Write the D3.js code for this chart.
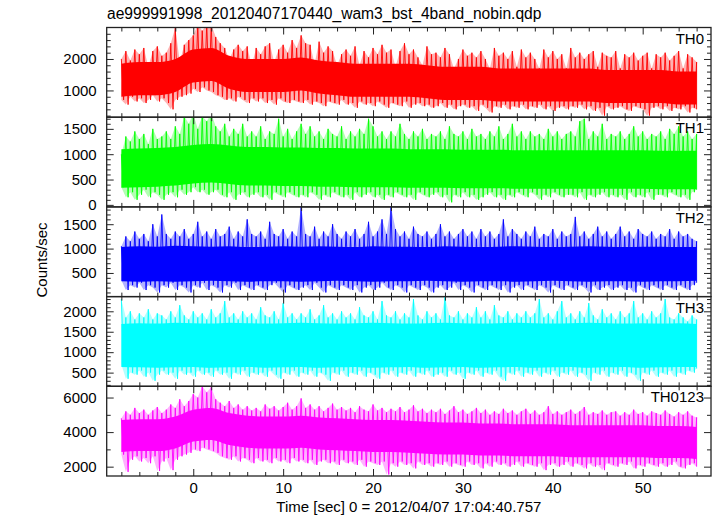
<!DOCTYPE html>
<html><head><meta charset="utf-8">
<script src="https://cdn.jsdelivr.net/npm/d3@7"></script>
<style>
body{margin:0;background:#fff}
text{font-family:"Liberation Sans",Arial,Helvetica,sans-serif}
</style>
</head><body>
<svg id="chart" width="717" height="516"></svg>
<script>
const title = "ae999991998_20120407170440_wam3_bst_4band_nobin.qdp";
const xLabel = "Time [sec] 0 = 2012/04/07 17:04:40.757";
const yLabel = "Counts/sec";
const xTickValues = [0, 10, 20, 30, 40, 50];
const panelNames = ["TH0", "TH1", "TH2", "TH3", "TH0123"];
const panelColors = ["#ff0000", "#00ff00", "#0000ff", "#00ffff", "#ff00ff"];
const yDomains = [[150, 3000], [-40, 1730], [15, 1855], [165, 2360], [1460, 6650]];
const yTickValues = [[1000, 2000], [0, 500, 1000, 1500], [500, 1000, 1500], [500, 1000, 1500, 2000], [2000, 4000, 6000]];
const yMinorStep = [200, 100, 100, 100, 1000];

// time grid of the envelope samples (0.5 s) and of the core band (2 s)
const spikeTimes = d3.range(129).map(i => -8 + 0.5 * i);
const coreTimes = d3.range(33).map(i => -8 + 2 * i);

// ---- TH0 ----
const th0Hi = [2000,2250,1950,2300,2150,2350,1750,2250,2400,2100,
2200,2500,3000,1900,2450,2600,2750,3100,2900,3100,
3100,2700,2500,2350,2000,2300,2450,2250,2400,1800,
2350,2150,2400,2500,1900,2300,2450,2200,2600,2350,
2750,2500,2450,1850,2550,2200,2400,2250,1800,2150,
2300,2100,2400,1800,2250,2050,2350,2150,2450,2200,
2300,1750,2250,2500,2150,2300,2050,1800,2400,2150,
2200,2050,2350,2150,1700,2000,2300,2100,2200,2050,
2250,2000,1700,2350,2100,2200,2000,2250,1750,2300,
2050,2200,2000,1700,2300,2050,2250,2000,2150,1700,
2350,2050,2200,2000,2150,2250,1750,2200,2100,2050,
2250,1700,2150,2050,2200,1950,2100,2200,1700,2150,
2050,2200,1950,2100,2250,1700,2150,2050,1900];
const th0Lo = [700,550,800,650,750,600,700,850,650,750,
600,400,700,800,850,900,1050,950,1100,1000,
950,850,800,700,750,650,800,700,600,750,
650,750,600,700,550,750,650,600,700,650,
600,700,550,650,600,500,650,600,550,700,
550,600,450,650,550,600,500,650,550,450,
600,550,500,650,450,550,600,500,550,450,
500,600,450,550,400,500,550,450,500,350,
550,450,300,500,450,550,400,500,450,550,
400,500,450,550,400,500,350,450,500,400,
500,450,550,400,500,350,450,200,500,400,
450,500,400,350,500,450,400,200,450,500,
400,500,350,450,400,500,300,450,400];
const th0CoreHi = [1850,1900,1900,2000,2300,2350,2100,2000,2000,2000,2050,1950,1900,1850,1850,1850,1850,1800,1750,1750,1750,1700,1700,1700,1700,1700,1700,1650,1650,1650,1650,1600,1600];
const th0CoreLo = [800,850,850,950,1250,1300,1050,950,950,950,1000,900,850,800,800,800,800,750,700,700,700,650,650,650,650,650,650,600,600,600,600,550,550];

// ---- TH1 ----
const th1Hi = [1000,1350,1250,1450,1300,1400,1200,1500,1300,1350,
1450,1300,1550,1400,1750,1600,1800,1500,1750,1650,
1800,1550,1450,1600,1350,1500,1400,1600,1350,1450,
1350,1550,1300,1450,1400,1700,1350,1500,1300,1450,
1600,1400,1550,1350,1450,1300,1500,1400,1350,1550,
1300,1450,1350,1500,1400,1700,1550,1350,1450,1300,
1450,1350,1600,1400,1300,1450,1350,1500,1300,1400,
1350,1450,1300,1550,1400,1350,1450,1300,1500,1350,
1400,1300,1450,1350,1550,1300,1400,1600,1350,1450,
1300,1450,1350,1400,1300,1500,1350,1450,1300,1400,
1450,1350,1650,1700,1300,1450,1350,1600,1300,1400,
1350,1450,1300,1400,1550,1350,1450,1300,1400,1350,
1450,1300,1500,1400,1550,1350,1450,1300,1400];
const th1Lo = [350,150,250,100,200,300,150,250,200,100,
200,250,150,300,200,250,350,250,300,200,
250,300,200,150,250,100,200,250,150,200,
250,150,200,100,250,200,150,250,200,150,
200,150,250,200,100,200,150,250,200,150,
200,100,250,150,200,250,150,200,100,200,
150,250,200,150,200,100,250,200,150,200,
250,150,200,50,200,150,250,150,200,100,
150,200,250,150,200,100,200,150,250,200,
150,250,200,100,200,150,250,200,150,200,
200,150,250,100,200,150,200,250,150,200,
150,200,100,250,150,200,150,250,100,200,
200,150,250,200,150,200,100,250,300];
const th1CoreHi = [1100,1110,1120,1140,1180,1200,1170,1140,1140,1130,1130,1120,1120,1110,1110,1110,1100,1100,1100,1090,1090,1090,1080,1080,1080,1080,1080,1080,1080,1080,1070,1070,1070];
const th1CoreLo = [340,350,360,380,420,440,410,380,380,370,370,360,360,350,350,350,340,340,340,330,330,330,320,320,320,320,320,320,320,320,310,310,310];

// ---- TH2 ----
const th2Hi = [1050,1250,1150,1350,1200,1300,1150,1500,1250,1700,
1300,1200,1350,1250,1400,1200,1300,1550,1250,1350,
1200,1400,1250,1300,1450,1200,1350,1250,1600,1300,
1250,1350,1200,1550,1300,1250,1400,1200,1350,1250,
1850,1300,1250,1450,1200,1350,1250,1500,1300,1200,
1350,1250,1400,1200,1300,1550,1250,1350,1600,1300,
1850,1400,1250,1350,1200,1450,1300,1250,1350,1200,
1300,1500,1250,1350,1200,1300,1400,1250,1350,1200,
1400,1250,1350,1200,1300,1600,1250,1400,1300,1200,
1350,1250,1450,1200,1300,1250,1400,1200,1350,1250,
1300,1650,1250,1350,1200,1300,1450,1250,1350,1200,
1300,1450,1250,1350,1200,1400,1300,1250,1350,1200,
1300,1250,1400,1200,1350,1250,1300,1200,1150];
const th2Lo = [350,150,250,200,300,150,250,200,100,250,
200,300,150,250,200,100,250,200,300,150,
250,200,100,250,200,300,150,250,200,150,
250,200,150,250,300,200,100,250,200,150,
200,250,150,300,200,100,250,200,150,250,
200,150,250,100,200,250,150,200,300,200,
150,250,200,100,250,200,150,250,200,100,
200,250,150,200,300,150,250,200,100,250,
200,150,250,200,150,250,100,200,250,150,
250,200,150,250,200,100,250,200,150,250,
200,150,250,200,100,250,150,200,250,150,
200,250,150,200,100,250,200,150,250,200,
150,250,200,150,250,200,150,250,300];
const th2CoreHi = [1030,1050,1040,1060,1050,1040,1050,1030,1040,1050,1040,1050,1040,1030,1050,1040,1040,1030,1050,1040,1030,1040,1050,1040,1030,1040,1050,1040,1030,1040,1040,1030,1030];
const th2CoreLo = [330,320,330,320,330,340,330,320,330,330,320,330,340,330,320,330,330,340,330,320,330,330,320,330,340,330,320,330,330,320,330,330,340];

// ---- TH3 ----
const th3Hi = [2300,1850,2000,1800,1950,1850,2050,1800,1950,1900,
1800,2000,1850,2150,1900,1800,2000,1850,1950,1800,
2050,1850,1950,2250,1850,1950,1800,2000,1850,1950,
1800,2100,1900,1850,2000,1800,2200,1850,1950,1800,
1950,1850,2050,1800,1900,2150,1850,1950,1800,2000,
1850,1950,1800,2100,1900,1850,2000,1800,2250,1900,
1850,2000,1800,1950,1850,2300,1900,1800,2000,1850,
1950,1800,2350,1900,1850,2000,1800,1950,1850,2100,
1850,2000,1800,2150,1900,1850,2000,1800,1950,1850,
2000,1850,1950,2300,1850,1950,1800,2000,2250,1850,
1950,1800,2000,1850,2200,1900,1800,2050,1850,1950,
1800,2000,1850,1950,2250,1850,1950,1800,2000,1850,
1950,2300,1850,1800,1950,1850,1750,1900,1800];
const th3Lo = [700,350,500,450,550,400,500,300,450,550,
450,500,350,550,450,500,400,550,450,500,
400,550,450,500,350,500,450,550,400,500,
450,500,400,550,450,350,500,450,550,400,
500,450,550,400,500,450,300,500,450,550,
400,500,450,550,400,500,450,350,500,450,
550,400,500,450,550,400,500,450,550,400,
450,500,400,550,450,500,350,500,450,550,
400,500,450,550,400,300,500,450,550,400,
500,450,550,400,500,450,550,400,500,450,
550,400,500,450,300,500,450,550,400,500,
450,550,400,500,450,300,500,450,550,400,
500,450,550,400,500,450,550,500,600];
const th3CoreHi = [1690,1710,1700,1720,1710,1700,1720,1710,1700,1710,1720,1710,1700,1710,1720,1710,1700,1710,1720,1710,1700,1710,1720,1710,1700,1710,1720,1710,1700,1710,1700,1710,1690];
const th3CoreLo = [640,630,620,630,640,620,630,640,620,630,640,620,630,640,620,630,640,620,630,640,620,630,640,620,630,640,620,630,640,620,630,640,640];

// ---- TH0123 ----
const thAllHi = [4800,5200,5000,5400,5100,5300,5000,5250,5450,5100,
5300,5600,5400,5900,5500,5800,6200,6000,6650,6300,
6600,5900,5700,5500,5800,5400,5600,5300,5500,5250,
5400,5200,5600,5350,5500,5250,5450,5700,5300,5500,
5950,5400,5600,5300,5500,5200,5400,5650,5300,5450,
5250,5400,5150,5500,5300,5200,5600,5250,5400,5150,
5350,5200,5450,5150,5300,5550,5200,5350,5100,5300,
5150,5350,5050,5250,5500,5150,5300,5050,5200,5400,
5100,5300,5000,5200,5050,5350,5100,5250,5000,5200,
5350,5050,5250,5000,5150,5500,5050,5200,5000,5150,
5300,5050,5200,5450,5000,5150,5050,5250,5000,5150,
5200,4950,5150,5000,5300,5050,5150,4950,5200,5100,
5000,5250,5050,4900,5150,5000,5200,4950,4850];
const thAllLo = [2700,1700,2400,2600,2300,2500,2200,2600,1750,2300,
2500,1800,2400,2600,2700,2800,3000,2900,3100,3000,
2900,2800,2600,2500,2400,2600,2300,2500,2400,2200,
2500,2300,2400,2200,2500,2300,2400,2200,2500,2300,
2400,2200,2400,2100,2300,2400,2200,2300,2100,2400,
2200,2300,2100,2400,2000,2300,2200,2100,2300,1550,
2200,2000,2300,2100,2200,1900,2300,2100,2200,2000,
2200,2100,2300,2000,2200,2100,2000,2300,2100,2200,
1900,2200,2000,2300,2100,2200,2000,2100,2300,2000,
2200,2100,2000,2200,1800,2100,2200,2000,2100,2300,
2000,2200,2100,1900,2200,2000,2100,1800,2200,2100,
2000,2200,2100,2300,1900,2100,2000,2200,2100,2000,
2200,2000,2100,2300,2000,1900,2100,2200,2000];
const thAllCoreHi = [4700,4750,4750,4900,5300,5400,5100,4950,4900,4900,4950,4850,4800,4750,4700,4700,4650,4600,4550,4550,4500,4500,4450,4450,4450,4400,4400,4400,4400,4400,4350,4350,4300];
const thAllCoreLo = [2850,2900,2900,3050,3450,3550,3250,3100,3050,3050,3100,3000,2950,2900,2850,2850,2800,2750,2700,2700,2650,2650,2600,2600,2600,2550,2550,2550,2550,2550,2500,2500,2450];

const hiSeries = [th0Hi, th1Hi, th2Hi, th3Hi, thAllHi];
const loSeries = [th0Lo, th1Lo, th2Lo, th3Lo, thAllLo];
const coreHiSeries = [th0CoreHi, th1CoreHi, th2CoreHi, th3CoreHi, thAllCoreHi];
const coreLoSeries = [th0CoreLo, th1CoreLo, th2CoreLo, th3CoreLo, thAllCoreLo];

// ---------- layout ----------
const plotLeft = 106.7, plotRight = 711, plotTop = 27.5, plotBottom = 476;
const nP = 5, ph = (plotBottom - plotTop) / nP;
const svg = d3.select("#chart");

const x = d3.scaleLinear().domain([-9.63, 57.6]).range([plotLeft, plotRight]);
const xMinor = d3.range(-8, 57, 2).filter(v => v % 10 !== 0);
const frameColor = "#222";

const defs = svg.append("defs");

for (let p = 0; p < nP; p++) {
  const y0 = plotTop + p * ph, y1 = y0 + ph;
  const y = d3.scaleLinear().domain(yDomains[p]).range([y1, y0]);
  const col = panelColors[p];
  defs.append("clipPath").attr("id", "clip" + p)
    .append("rect").attr("x", plotLeft).attr("y", y0).attr("width", plotRight - plotLeft).attr("height", ph);
  const g = svg.append("g").attr("clip-path", `url(#clip${p})`);

  // faint envelope fill (the dense, antialiased outer fringe)
  const env = spikeTimes.map((t, i) => ({t, hi: hiSeries[p][i], lo: loSeries[p][i]}));
  g.append("path").datum(env)
    .attr("fill", col).attr("fill-opacity", 0.3)
    .attr("d", d3.area().x(d => x(d.t)).y0(d => y(d.lo)).y1(d => y(d.hi)));

  // alternating envelope trace
  const pts = [];
  spikeTimes.forEach((t, i) => {
    pts.push([t, hiSeries[p][i]]);
    if (i < spikeTimes.length - 1) pts.push([t + 0.25, loSeries[p][i]]);
    else pts.push([t, loSeries[p][i]]);
  });
  g.append("path").datum(pts)
    .attr("fill", "none").attr("stroke", col).attr("stroke-width", 0.9)
    .attr("stroke-linejoin", "miter").attr("stroke-miterlimit", 2)
    .attr("d", d3.line().x(d => x(d[0])).y(d => y(d[1])));

  // core band
  const coreData = coreTimes.map((t, i) => ({t, hi: coreHiSeries[p][i], lo: coreLoSeries[p][i]}));
  g.append("path").datum(coreData)
    .attr("fill", col)
    .attr("d", d3.area().x(d => x(d.t)).y0(d => y(d.lo)).y1(d => y(d.hi)).curve(d3.curveMonotoneX));

  // axes
  const yMinorVals = d3.range(Math.ceil(yDomains[p][0] / yMinorStep[p]) * yMinorStep[p], yDomains[p][1], yMinorStep[p])
    .filter(v => !yTickValues[p].includes(v));

  const axL = svg.append("g").attr("transform", `translate(${plotLeft},0)`)
    .call(d3.axisLeft(y).tickValues(yTickValues[p]).tickSize(-7).tickPadding(10).tickFormat(d3.format("d")));
  const axLm = svg.append("g").attr("transform", `translate(${plotLeft},0)`)
    .call(d3.axisLeft(y).tickValues(yMinorVals).tickSize(-4).tickFormat(""));
  const axR = svg.append("g").attr("transform", `translate(${plotRight},0)`)
    .call(d3.axisRight(y).tickValues(yTickValues[p]).tickSize(-7).tickFormat(""));
  const axRm = svg.append("g").attr("transform", `translate(${plotRight},0)`)
    .call(d3.axisRight(y).tickValues(yMinorVals).tickSize(-4).tickFormat(""));
  const axT = svg.append("g").attr("transform", `translate(0,${y0})`)
    .call(d3.axisTop(x).tickValues(xTickValues).tickSize(-7).tickFormat(""));
  const axTm = svg.append("g").attr("transform", `translate(0,${y0})`)
    .call(d3.axisTop(x).tickValues(xMinor).tickSize(-4).tickFormat(""));
  const axB = svg.append("g").attr("transform", `translate(0,${y1})`)
    .call(d3.axisBottom(x).tickValues(xTickValues).tickSize(-7).tickPadding(6)
      .tickFormat(p === nP - 1 ? d3.format("d") : ""));
  const axBm = svg.append("g").attr("transform", `translate(0,${y1})`)
    .call(d3.axisBottom(x).tickValues(xMinor).tickSize(-4).tickFormat(""));
  [axL, axLm, axR, axRm, axT, axTm, axB, axBm].forEach(a => {
    a.select(".domain").remove();
    a.selectAll("line").attr("stroke", frameColor).attr("stroke-width", 1);
    a.selectAll("text").attr("font-size", 15).attr("fill", "#000")
      .attr("font-family", '"Liberation Sans",Arial,sans-serif');
  });
  if (p === nP - 1) axB.selectAll("text").attr("dy", "0").attr("y", 17);

  // panel frame
  svg.append("rect").attr("x", plotLeft).attr("y", y0).attr("width", plotRight - plotLeft).attr("height", ph)
    .attr("fill", "none").attr("stroke", frameColor).attr("stroke-width", 1.3);

  // panel label
  svg.append("text").attr("x", 704).attr("y", y0 + 16).attr("text-anchor", "end")
    .attr("font-size", 15).attr("fill", "#000").text(panelNames[p]);
}

// title & axis labels
svg.append("text").attr("x", 107).attr("y", 19).attr("font-size", 15.6).attr("fill", "#000").text(title);
svg.append("text").attr("x", (plotLeft + plotRight) / 2).attr("y", 511.5).attr("text-anchor", "middle")
  .attr("font-size", 15).attr("fill", "#000").text(xLabel);
svg.append("text").attr("transform", "translate(46.5,260) rotate(-90)").attr("text-anchor", "middle")
  .attr("font-size", 15).attr("fill", "#000").text(yLabel);
</script>
</body></html>
